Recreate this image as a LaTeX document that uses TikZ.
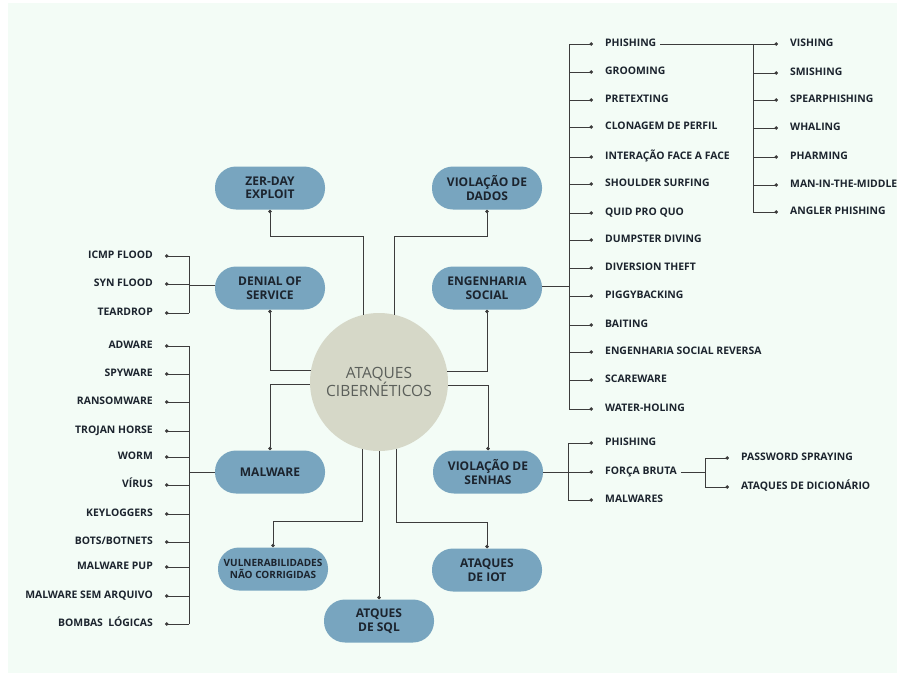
\documentclass[tikz,border=0pt]{standalone}
\usepackage{fontspec}
\setmainfont{Open Sans}[BoldFont={Open Sans Bold}]
\usetikzlibrary{arrows.meta}

\definecolor{bgmint}{HTML}{F3FCF6}
\definecolor{pillblue}{HTML}{78A5BF}
\definecolor{hubgray}{HTML}{D6D8C8}
\definecolor{hubtext}{HTML}{5B5F5A}
\definecolor{ink}{HTML}{1C242E}
\definecolor{wire}{HTML}{3C3C3C}

\begin{document}
\begin{tikzpicture}[x=1pt, y=-1pt,
    pill/.style={fill=pillblue, rounded corners=21pt, minimum width=110pt, minimum height=43pt,
        inner sep=1pt, align=center, text=ink, font=\bfseries\fontsize{12}{13.5}\selectfont},
    item/.style={text=ink, inner sep=2pt, text height=7pt, text depth=2pt,
        font=\bfseries\fontsize{10.4}{11}\selectfont},
    link/.style={draw=wire, line width=0.9pt},
    feed/.style={link, -{Circle[length=3.5pt]}},
    leaf/.style={link, -{Circle[length=3.5pt]}, shorten >=10pt}]
    \useasboundingbox (0,0) rectangle (897,673);
    \fill[bgmint] (8,3) rectangle (897,673);

    % Centre
    \node[circle, fill=hubgray, minimum size=138pt, inner sep=0pt, align=center, text=hubtext,
        font=\fontsize{15.5}{16}\selectfont] (hub) at (379,382) {ATAQUES\\CIBERNÉTICOS};

    % Main branches
    \node[pill] (zd) at (270,188) {ZER-DAY\\EXPLOIT};
    \node[pill] (vd) at (487,188) {VIOLAÇÃO DE\\DADOS};
    \node[pill] (dos) at (270,288) {DENIAL OF\\SERVICE};
    \node[pill] (es) at (487,288) {ENGENHARIA\\SOCIAL};
    \node[pill] (mw) at (270,472) {MALWARE};
    \node[pill] (vs) at (488,472) {VIOLAÇÃO DE\\SENHAS};
    \node[pill, font=\bfseries\fontsize{10}{12}\selectfont] (vn) at (273,569) {VULNERABILIDADES\\NÃO CORRIGIDAS};
    \node[pill] (iot) at (487,570) {ATAQUES\\DE IOT};
    \node[pill] (sql) at (379,621) {ATQUES\\DE SQL};

    \coordinate (zdk) at ([yshift=-27pt]zd.south);
    \coordinate (vdk) at ([yshift=-27pt]vd.south);
    \coordinate (vnk) at ([yshift=26pt]vn.north);
    \coordinate (iok) at ([yshift=26pt]iot.north);

    \draw[feed] (hub.103.4) |- (zdk) -- (zd.south);
    \draw[feed] (hub.77.4) |- (vdk) -- (vd.south);
    \draw[feed] (hub.170.8) -| (dos.south);
    \draw[feed] (hub.182.5) -| (mw.north);
    \draw[feed] (hub.9.2) -| (es.south);
    \draw[feed] (hub.357.5) -| (vs.north);
    \draw[feed] (hub.256.6) |- (vnk) -- (vn.north);
    \draw[feed] (hub.285.1) |- (iok) -- (iot.north);
    \draw[feed] (hub.south) -- (sql.north);

    % Denial of service
    \coordinate (dbar) at (189,0);
    \node[item, anchor=east] (d1) at (155,256) {ICMP FLOOD};
    \node[item, anchor=east] (d2) at (155,284) {SYN FLOOD};
    \node[item, anchor=east] (d3) at (155,313) {TEARDROP};
    \draw[link] (d1.east -| dbar) -- (d3.east -| dbar);
    \draw[link] ([yshift=3pt]dos.west) -- ([yshift=3pt]dos.west -| dbar);
    \draw[leaf] (d1.east -| dbar) -- (d1.east);
    \draw[leaf] (d2.east -| dbar) -- (d2.east);
    \draw[leaf] (d3.east -| dbar) -- (d3.east);

    % Malware
    \coordinate (mbar) at (189,0);
    \node[item, anchor=east] (m1) at (155,346) {ADWARE};
    \node[item, anchor=east] (m2) at (155,374) {SPYWARE};
    \node[item, anchor=east] (m3) at (155,402) {RANSOMWARE};
    \node[item, anchor=east] (m4) at (155,431) {TROJAN HORSE};
    \node[item, anchor=east] (m5) at (155,457) {WORM};
    \node[item, anchor=east] (m6) at (155,485) {VÍRUS};
    \node[item, anchor=east] (m7) at (155,514) {KEYLOGGERS};
    \node[item, anchor=east] (m8) at (155,542) {BOTS/BOTNETS};
    \node[item, anchor=east] (m9) at (155,567) {MALWARE PUP};
    \node[item, anchor=east] (m10) at (155,596) {MALWARE SEM ARQUIVO};
    \node[item, anchor=east] (m11) at (155,624) {BOMBAS\ \ LÓGICAS};
    \draw[link] (m1.east -| mbar) -- (m11.east -| mbar);
    \draw[link] (mw.west) -- (mw.west -| mbar);
    \draw[leaf] (m1.east -| mbar) -- (m1.east);
    \draw[leaf] (m2.east -| mbar) -- (m2.east);
    \draw[leaf] (m3.east -| mbar) -- (m3.east);
    \draw[leaf] (m4.east -| mbar) -- (m4.east);
    \draw[leaf] (m5.east -| mbar) -- (m5.east);
    \draw[leaf] (m6.east -| mbar) -- (m6.east);
    \draw[leaf] (m7.east -| mbar) -- (m7.east);
    \draw[leaf] (m8.east -| mbar) -- (m8.east);
    \draw[leaf] (m9.east -| mbar) -- (m9.east);
    \draw[leaf] (m10.east -| mbar) -- (m10.east);
    \draw[leaf] (m11.east -| mbar) -- (m11.east);

    % Engenharia social
    \coordinate (ebar) at (569,0);
    \node[item, anchor=west] (s1) at (603,44) {PHISHING};
    \node[item, anchor=west] (s2) at (603,72) {GROOMING};
    \node[item, anchor=west] (s3) at (603,100) {PRETEXTING};
    \node[item, anchor=west] (s4) at (603,127) {CLONAGEM DE PERFIL};
    \node[item, anchor=west] (s5) at (603,157) {INTERAÇÃO FACE A FACE};
    \node[item, anchor=west] (s6) at (603,184) {SHOULDER SURFING};
    \node[item, anchor=west] (s7) at (603,213) {QUID PRO QUO};
    \node[item, anchor=west] (s8) at (603,240) {DUMPSTER DIVING};
    \node[item, anchor=west] (s9) at (603,268) {DIVERSION THEFT};
    \node[item, anchor=west] (s10) at (603,296) {PIGGYBACKING};
    \node[item, anchor=west] (s11) at (603,325) {BAITING};
    \node[item, anchor=west] (s12) at (603,352) {ENGENHARIA SOCIAL REVERSA};
    \node[item, anchor=west] (s13) at (603,380) {SCAREWARE};
    \node[item, anchor=west] (s14) at (603,409) {WATER-HOLING};
    \draw[link] (s1.west -| ebar) -- (s14.west -| ebar);
    \draw[link] ([yshift=2pt]es.east) -- ([yshift=2pt]es.east -| ebar);
    \draw[leaf] (s1.west -| ebar) -- (s1.west);
    \draw[leaf] (s2.west -| ebar) -- (s2.west);
    \draw[leaf] (s3.west -| ebar) -- (s3.west);
    \draw[leaf] (s4.west -| ebar) -- (s4.west);
    \draw[leaf] (s5.west -| ebar) -- (s5.west);
    \draw[leaf] (s6.west -| ebar) -- (s6.west);
    \draw[leaf] (s7.west -| ebar) -- (s7.west);
    \draw[leaf] (s8.west -| ebar) -- (s8.west);
    \draw[leaf] (s9.west -| ebar) -- (s9.west);
    \draw[leaf] (s10.west -| ebar) -- (s10.west);
    \draw[leaf] (s11.west -| ebar) -- (s11.west);
    \draw[leaf] (s12.west -| ebar) -- (s12.west);
    \draw[leaf] (s13.west -| ebar) -- (s13.west);
    \draw[leaf] (s14.west -| ebar) -- (s14.west);

    % Phishing
    \coordinate (pbar) at (753,0);
    \node[item, anchor=west] (v1) at (788,44) {VISHING};
    \node[item, anchor=west] (v2) at (788,73) {SMISHING};
    \node[item, anchor=west] (v3) at (788,100) {SPEARPHISHING};
    \node[item, anchor=west] (v4) at (788,128) {WHALING};
    \node[item, anchor=west] (v5) at (788,157) {PHARMING};
    \node[item, anchor=west] (v6) at (788,185) {MAN-IN-THE-MIDDLE};
    \node[item, anchor=west] (v7) at (788,212) {ANGLER PHISHING};
    \draw[link] (v1.west -| pbar) -- (v7.west -| pbar);
    \draw[leaf] ([xshift=2pt]s1.east) -- (v1.west);
    \draw[leaf] (v2.west -| pbar) -- (v2.west);
    \draw[leaf] (v3.west -| pbar) -- (v3.west);
    \draw[leaf] (v4.west -| pbar) -- (v4.west);
    \draw[leaf] (v5.west -| pbar) -- (v5.west);
    \draw[leaf] (v6.west -| pbar) -- (v6.west);
    \draw[leaf] (v7.west -| pbar) -- (v7.west);

    % Violacao de senhas
    \coordinate (wbar) at (568,0);
    \node[item, anchor=west] (w1) at (603,443) {PHISHING};
    \node[item, anchor=west] (w2) at (603,472) {FORÇA BRUTA};
    \node[item, anchor=west] (w3) at (603,500) {MALWARES};
    \draw[link] (w1.west -| wbar) -- (w3.west -| wbar);
    \draw[link] (vs.east) -- (vs.east -| wbar);
    \draw[leaf] (w1.west -| wbar) -- (w1.west);
    \draw[leaf] (w2.west -| wbar) -- (w2.west);
    \draw[leaf] (w3.west -| wbar) -- (w3.west);

    % Forca bruta
    \coordinate (fbar) at (705,0);
    \node[item, anchor=west] (f1) at (739,458) {PASSWORD SPRAYING};
    \node[item, anchor=west] (f2) at (739,487) {ATAQUES DE DICIONÁRIO};
    \draw[link] (f1.west -| fbar) -- (f2.west -| fbar);
    \draw[link] ([xshift=2pt]w2.east) -- (w2.east -| fbar);
    \draw[leaf] (f1.west -| fbar) -- (f1.west);
    \draw[leaf] (f2.west -| fbar) -- (f2.west);
\end{tikzpicture}
\end{document}
